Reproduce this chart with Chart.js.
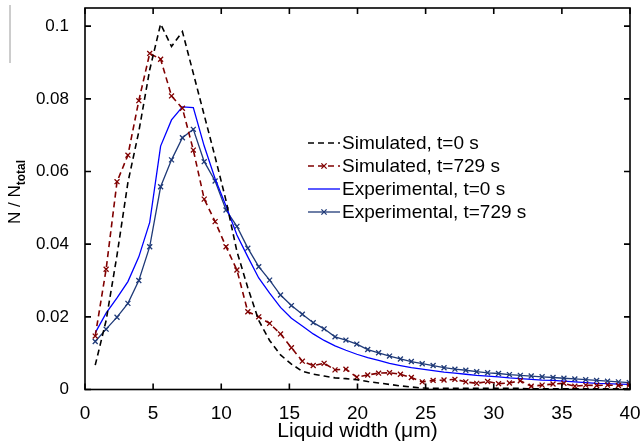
<!DOCTYPE html>
<html><head><meta charset="utf-8">
<script src="https://cdn.jsdelivr.net/npm/chart.js@4/dist/chart.umd.min.js"></script>
<style>html,body{margin:0;padding:0;background:#fff}#wrap{width:641px;height:444px;position:relative}</style>
</head><body><div id="wrap"><canvas id="c" width="641" height="444"></canvas></div>
<script>
// Liquid width (µm) sample positions
const widths = [0.75,1.55,2.35,3.15,3.95,4.75,5.55,6.35,7.15,7.95,
  8.75,9.55,10.35,11.15,11.95,12.75,13.55,14.35,15.15,15.95,
  16.75,17.55,18.35,19.15,19.95,20.75,21.55,22.35,23.15,23.95,
  24.75,25.55,26.35,27.15,27.95,28.75,29.55,30.35,31.15,31.95,
  32.75,33.55,34.35,35.15,35.95,36.75,37.55,38.35,39.15,39.95];
const simT0 = [0.0067,0.019,0.037,0.057,0.071,0.088,0.1006,0.0944,0.0985,0.087,
  0.0755,0.064,0.052,0.038,0.028,0.019,0.0135,0.0095,0.007,0.005,
  0.0042,0.0037,0.0032,0.003,0.0027,0.0022,0.0018,0.0014,0.001,0.0007,
  0.0004,0.0003,0.0003,0.0003,0.0003,0.0003,0.0003,0.0003,0.0003,0.0003,
  0.0002,0.0002,0.0002,0.0002,0.0002,0.0002,0.0002,0.0002,0.0002,0.0002];
const simT729 = [0.0147,0.0331,0.0572,0.0645,0.0795,0.0925,0.0909,0.0808,0.0774,0.0659,
  0.0524,0.0462,0.0393,0.0329,0.0214,0.0200,0.0182,0.0153,0.0115,0.0078,
  0.0066,0.0072,0.0054,0.0056,0.0034,0.0040,0.0045,0.0046,0.0042,0.0033,
  0.0021,0.0025,0.0026,0.0028,0.0021,0.0017,0.0022,0.0016,0.0018,0.0024,
  0.0009,0.0012,0.0015,0.0017,0.0009,0.0012,0.0011,0.0012,0.0011,0.0012];
const expT0 = [0.0156,0.021,0.0252,0.0297,0.0365,0.046,0.067,0.0742,0.0778,0.0776,
  0.067,0.058,0.0505,0.0425,0.0365,0.0307,0.0265,0.0226,0.0196,0.0175,
  0.0153,0.0135,0.012,0.0108,0.0097,0.0088,0.008,0.0072,0.0066,0.006,
  0.0056,0.0052,0.0048,0.0045,0.0042,0.0039,0.0037,0.0035,0.0032,0.003,
  0.0028,0.0026,0.0025,0.0023,0.0021,0.0019,0.0017,0.0016,0.0015,0.0014];
const expT729 = [0.0132,0.0166,0.0199,0.0237,0.030,0.0393,0.0558,0.0632,0.0693,0.0716,
  0.0627,0.0574,0.0494,0.0449,0.0389,0.0338,0.0301,0.026,0.0231,0.0207,
  0.0184,0.0167,0.0145,0.0136,0.0125,0.011,0.0101,0.0092,0.0084,0.0077,
  0.0071,0.0066,0.006,0.0056,0.0053,0.0049,0.0046,0.0044,0.0041,0.0039,
  0.0037,0.0035,0.0033,0.0031,0.0029,0.0027,0.0025,0.0023,0.0021,0.0019];
const seriesNames = ['Simulated, t=0 s','Simulated, t=729 s','Experimental, t=0 s','Experimental, t=729 s'];
const xTickValues = [0,5,10,15,20,25,30,35,40];
const yTickValues = [0,0.02,0.04,0.06,0.08,0.1];
const xTitle = 'Liquid width (\u03bcm)';
const yTitleMain = 'N / N';
const yTitleSub = 'total';

const pts = arr => arr.map((v,i) => ({x: widths[i], y: v}));
const FONT = '"Liberation Sans", Arial, sans-serif';

const datasets = [
  {label: seriesNames[0], data: pts(simT0), borderColor:'#000000', borderWidth:1.6, borderDash:[6,4], pointRadius:0, fill:false},
  {label: seriesNames[1], data: pts(simT729), borderColor:'#800000', borderWidth:1.6, borderDash:[6,4], pointStyle:'crossRot', pointRadius:3.5, pointBorderWidth:1.3, pointBorderColor:'#800000', fill:false},
  {label: seriesNames[2], data: pts(expT0), borderColor:'#0000ff', borderWidth:1.3, pointRadius:0, fill:false},
  {label: seriesNames[3], data: pts(expT729), borderColor:'#1f3a78', borderWidth:1.3, pointStyle:'crossRot', pointRadius:3.5, pointBorderWidth:1.3, pointBorderColor:'#1f3a78', fill:false}
];

const axesPlugin = {
  id: 'axesPlugin',
  afterDatasetsDraw(chart) {
    const {ctx, chartArea: a, scales: {x, y}} = chart;
    ctx.save();
    ctx.strokeStyle = '#000'; ctx.lineWidth = 1.6; ctx.setLineDash([]);
    ctx.strokeRect(a.left, a.top, a.right - a.left, a.bottom - a.top);
    const tl = 6;
    ctx.beginPath();
    xTickValues.forEach(v => {
      const px = x.getPixelForValue(v);
      ctx.moveTo(px, a.bottom); ctx.lineTo(px, a.bottom - tl);
      ctx.moveTo(px, a.top); ctx.lineTo(px, a.top + tl);
    });
    yTickValues.forEach(v => {
      const py = y.getPixelForValue(v);
      ctx.moveTo(a.left, py); ctx.lineTo(a.left + tl, py);
      ctx.moveTo(a.right, py); ctx.lineTo(a.right - tl, py);
    });
    ctx.stroke();
    ctx.restore();
  },
  afterDraw(chart) {
    const {ctx} = chart;
    ctx.save();
    // legend
    const rows = [143, 166, 189, 212];
    const lx0 = 308, lx1 = 340;
    chart.data.datasets.forEach((ds, i) => {
      const yy = rows[i];
      ctx.strokeStyle = ds.borderColor; ctx.lineWidth = ds.borderWidth;
      ctx.setLineDash(ds.borderDash || []);
      ctx.beginPath(); ctx.moveTo(lx0, yy); ctx.lineTo(lx1, yy); ctx.stroke();
      ctx.setLineDash([]);
      if (ds.pointRadius > 0) {
        const cx = (lx0 + lx1) / 2, r = ds.pointRadius;
        ctx.lineWidth = ds.pointBorderWidth;
        ctx.beginPath();
        ctx.moveTo(cx - r*0.75, yy - r*0.75); ctx.lineTo(cx + r*0.75, yy + r*0.75);
        ctx.moveTo(cx + r*0.75, yy - r*0.75); ctx.lineTo(cx - r*0.75, yy + r*0.75);
        ctx.stroke();
      }
      ctx.fillStyle = '#000';
      ctx.font = '19px ' + FONT;
      ctx.textBaseline = 'middle'; ctx.textAlign = 'left';
      ctx.fillText(ds.label, lx1 + 2, yy + 1);
    });
    // y axis title
    ctx.translate(20, 192);
    ctx.rotate(-Math.PI / 2);
    ctx.fillStyle = '#000';
    ctx.textBaseline = 'alphabetic'; ctx.textAlign = 'left';
    const mainFont = '17px ' + FONT, subFont = 'bold 12px ' + FONT;
    ctx.font = mainFont; const w1 = ctx.measureText(yTitleMain).width;
    ctx.font = subFont; const w2 = ctx.measureText(yTitleSub).width;
    const start = -(w1 + w2) / 2;
    ctx.font = mainFont; ctx.fillText(yTitleMain, start, 0);
    ctx.font = subFont; ctx.fillText(yTitleSub, start + w1, 5);
    ctx.restore();
    // faint left edge line
    ctx.save();
    ctx.strokeStyle = '#9a9a9a'; ctx.lineWidth = 1;
    ctx.beginPath(); ctx.moveTo(10, 5); ctx.lineTo(10, 63); ctx.stroke();
    ctx.restore();
  }
};

new Chart(document.getElementById('c'), {
  type: 'line',
  data: {datasets},
  options: {
    responsive: false, animation: false, devicePixelRatio: 1,
    layout: {padding: {left: 0, right: 11, top: 8, bottom: 0}},
    plugins: {legend: {display: false}, tooltip: {enabled: false}, title: {display: false}},
    elements: {line: {tension: 0}},
    scales: {
      x: {
        type: 'linear', min: 0, max: 40,
        afterBuildTicks: s => { s.ticks = xTickValues.map(v => ({value: v})); },
        afterFit: s => { s.height = 54.5; s.paddingLeft = 0; s.paddingRight = 0; },
        grid: {display: false}, border: {display: false},
        ticks: {color: '#000', font: {family: FONT, size: 19}, padding: 5, maxRotation: 0, callback: v => String(v)},
        title: {display: true, text: xTitle, color: '#000', font: {family: FONT, size: 21}, padding: {top: 0, bottom: 0}}
      },
      y: {
        type: 'linear', min: 0, max: 0.105,
        afterBuildTicks: s => { s.ticks = yTickValues.map(v => ({value: v})); },
        afterFit: s => { s.width = 85; s.paddingTop = 0; s.paddingBottom = 0; },
        grid: {display: false}, border: {display: false},
        ticks: {color: '#000', font: {family: FONT, size: 17}, padding: 8, callback: v => String(+v.toFixed(2))}
      }
    }
  },
  plugins: [axesPlugin]
});
</script></body></html>
